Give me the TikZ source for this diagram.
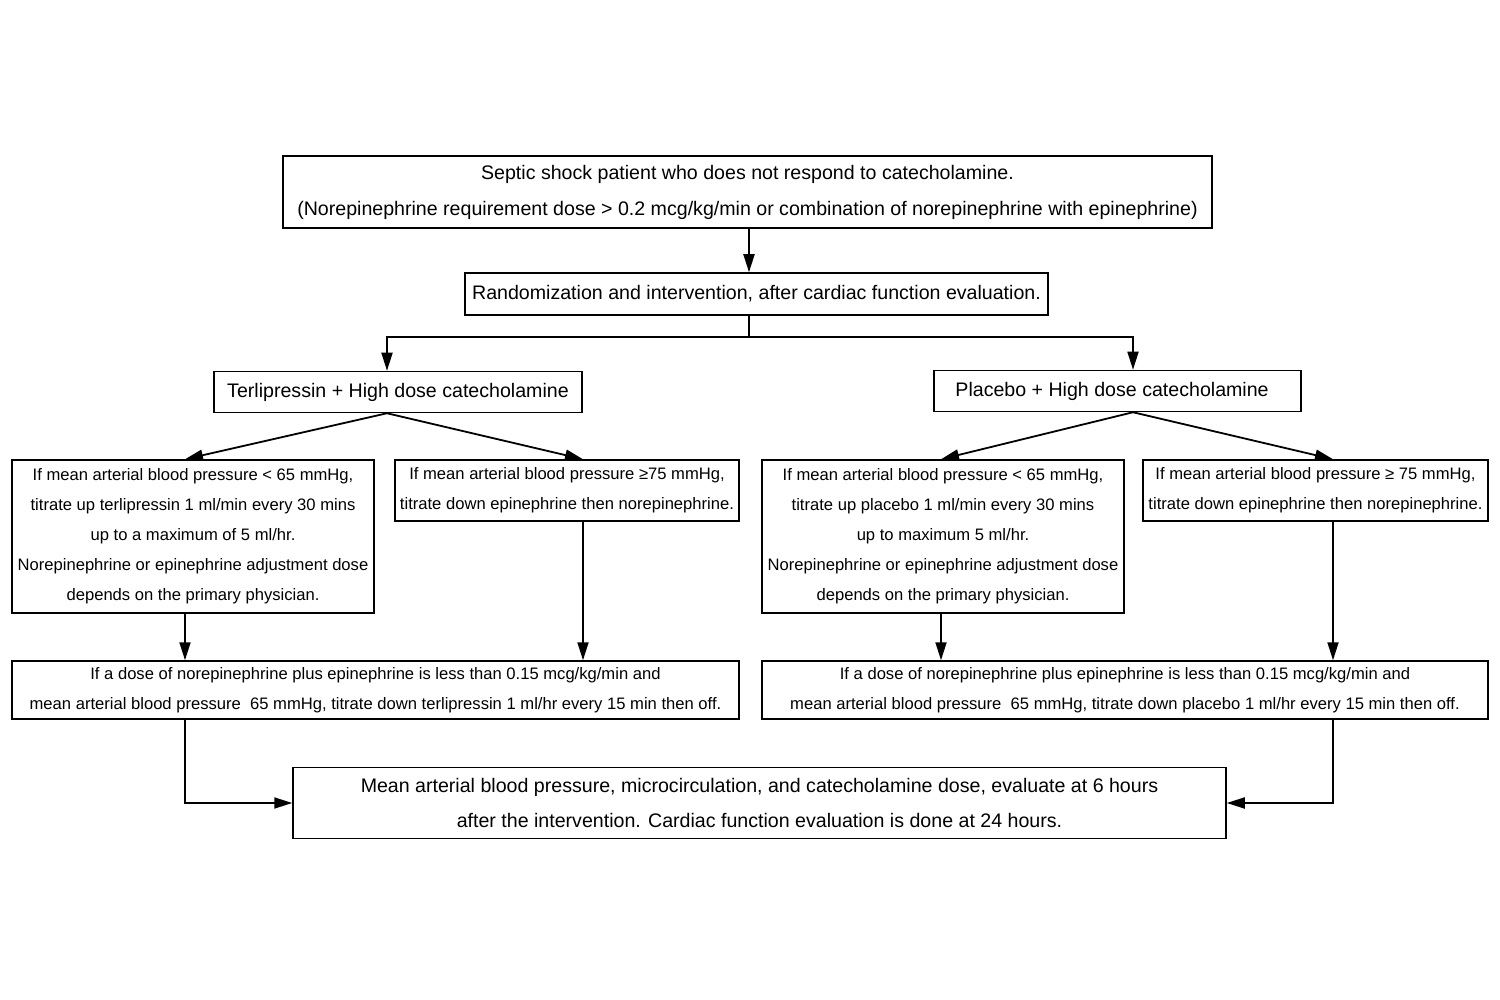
\documentclass[tikz,border=0pt]{standalone}
\usepackage{fontspec}
\setmainfont{Liberation Sans}
\usetikzlibrary{arrows.meta}
\begin{document}
\begin{tikzpicture}[x=1pt,y=-1pt,
  box/.style={draw, line width=1.5pt, inner sep=0pt, align=center, anchor=center},
  big/.style={font={\fontsize{19.6}{36}\selectfont}},
  small/.style={font={\fontsize{16.6}{30}\selectfont}},
  conn/.style={line width=1.8pt},
  arr/.style={conn, -{Triangle[length=18pt,width=11pt]}}]
\useasboundingbox (0,0) rectangle (1500,1000);
\fill[white] (0,0) rectangle (1500,1000);
\node[box,big,minimum width=929pt,minimum height=72pt] (top) at (747.5,192)
  {Septic shock patient who does not respond to catecholamine.\\
   (Norepinephrine requirement dose > 0.2 mcg/kg/min or combination of norepinephrine with epinephrine)};
\node[box,big,minimum width=583pt,minimum height=42pt] (rand) at (756.5,294)
  {Randomization and intervention, after cardiac function evaluation.};
\node[box,big,minimum width=368pt,minimum height=41pt] (terli) at (398,392)
  {Terlipressin + High dose catecholamine};
\node[box,big,minimum width=367pt,minimum height=41pt] (plac) at (1117.5,391)
  {Placebo + High dose catecholamine\ \ };
\node[box,small,minimum width=362pt,minimum height=153pt] (L1) at (193,536.5)
  {If mean arterial blood pressure < 65 mmHg,\\
   titrate up terlipressin 1 ml/min every 30 mins\\
   up to a maximum of 5 ml/hr.\\
   Norepinephrine or epinephrine adjustment dose\\
   depends on the primary physician.};
\node[box,small,minimum width=344pt,minimum height=61pt] (L2) at (567,490.5)
  {If mean arterial blood pressure ≥75 mmHg,\\
   titrate down epinephrine then norepinephrine.};
\node[box,small,minimum width=727pt,minimum height=58pt] (L3) at (375.5,690)
  {If a dose of norepinephrine plus epinephrine is less than 0.15 mcg/kg/min and\\
   mean arterial blood pressure\ \ 65 mmHg, titrate down terlipressin 1 ml/hr every 15 min then off.};
\node[box,small,minimum width=362pt,minimum height=153pt] (R1) at (943,536.5)
  {If mean arterial blood pressure < 65 mmHg,\\
   titrate up placebo 1 ml/min every 30 mins\\
   up to maximum 5 ml/hr.\\
   Norepinephrine or epinephrine adjustment dose\\
   depends on the primary physician.};
\node[box,small,minimum width=345pt,minimum height=61pt] (R2) at (1315.5,490.5)
  {If mean arterial blood pressure ≥ 75 mmHg,\\
   titrate down epinephrine then norepinephrine.};
\node[box,small,minimum width=726pt,minimum height=58pt] (R3) at (1125,690)
  {If a dose of norepinephrine plus epinephrine is less than 0.15 mcg/kg/min and\\
   mean arterial blood pressure\ \ 65 mmHg, titrate down placebo 1 ml/hr every 15 min then off.};
\node[box,big,minimum width=933pt,minimum height=71pt,font={\fontsize{19.6}{35}\selectfont}] (bot) at (759.5,803)
  {Mean arterial blood pressure, microcirculation, and catecholamine dose, evaluate at 6 hours\\
   after the intervention. Cardiac function evaluation is done at 24 hours.};
\coordinate (j) at (749,337);
\coordinate (xa) at (387,0);
\coordinate (xb) at (1133,0);
\coordinate (xl1) at (185,0);
\coordinate (xl2) at (583,0);
\coordinate (xr1) at (941,0);
\coordinate (xr2) at (1333,0);
\draw[arr] (j |- top.south) -- (j |- rand.north);
\draw[conn] (j |- rand.south) -- (j);
\draw[arr] (j) -| (xa |- terli.north);
\draw[arr] (j) -| (xb |- plac.north);
\draw[arr] (xa |- terli.south) -- (xl1 |- L1.north);
\draw[arr] (xa |- terli.south) -- (xl2 |- L2.north);
\draw[arr] (xb |- plac.south) -- (xr1 |- R1.north);
\draw[arr] (xb |- plac.south) -- (xr2 |- R2.north);
\draw[arr] (xl1 |- L1.south) -- (xl1 |- L3.north);
\draw[arr] (xl2 |- L2.south) -- (xl2 |- L3.north);
\draw[arr] (xr1 |- R1.south) -- (xr1 |- R3.north);
\draw[arr] (xr2 |- R2.south) -- (xr2 |- R3.north);
\draw[arr] (xl1 |- L3.south) |- (bot.west);
\draw[arr] (xr2 |- R3.south) |- (bot.east);
\end{tikzpicture}
\end{document}
